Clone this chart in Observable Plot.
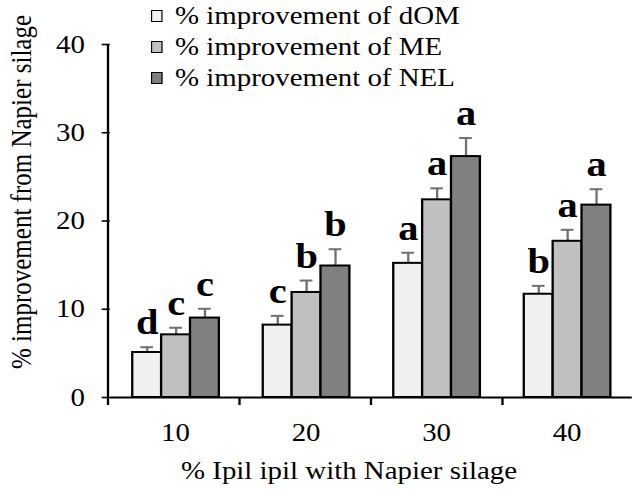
<!DOCTYPE html>
<html>
<head>
<meta charset="utf-8">
<script src="https://cdn.jsdelivr.net/npm/d3@7"></script>
<script src="https://cdn.jsdelivr.net/npm/@observablehq/plot@0.6"></script>
<style>
  html, body { margin: 0; padding: 0; background: #fff; }
  #chart { position: relative; width: 634px; height: 491px; color: #000; overflow: hidden; }
  #chart, #chart * { font-family: "Liberation Serif", serif !important; }
  #chart svg { position: absolute; left: 0; top: 0; }
</style>
</head>
<body>
<div id="chart"></div>
<script>
// Treatment levels (% Ipil ipil) and measured series
const doses = ["10", "20", "30", "40"];
const series = ["dOM", "ME", "NEL"];
const seriesLabels = ["% improvement of dOM", "% improvement of ME", "% improvement of NEL"];
const seriesFills = ["#f0f0f0", "#c0c0c0", "#808080"];

const dOM = [5.1, 8.2, 15.2, 11.7];
const dOMErr = [0.6, 1.05, 1.2, 0.95];
const dOMLetters = ["d", "c", "a", "b"];

const ME = [7.1, 11.9, 22.4, 17.7];
const MEErr = [0.8, 1.35, 1.3, 1.3];
const MELetters = ["c", "b", "a", "a"];

const NEL = [9.0, 14.9, 27.3, 21.8];
const NELErr = [1.05, 1.9, 2.1, 1.8];
const NELLetters = ["c", "b", "a", "a"];

const yTicks = [0, 10, 20, 30, 40];

const values = {dOM, ME, NEL};
const errors = {dOM: dOMErr, ME: MEErr, NEL: NELErr};
const letters = {dOM: dOMLetters, ME: MELetters, NEL: NELLetters};

const rows = doses.flatMap((dose, i) =>
  series.map(s => ({
    dose,
    series: s,
    value: values[s][i],
    top: values[s][i] + errors[s][i],
    letter: letters[s][i]
  }))
);

// The figure is drawn slightly widened: lay out in narrower units, then stretch horizontally.
const stretch = 1.155;
const W = 634, H = 491;
const textSize = 25;

const plot = Plot.plot({
  width: W / stretch,
  height: H,
  marginLeft: 108 / stretch,
  marginRight: 0,
  marginTop: 44,
  marginBottom: 94,
  style: {fontSize: textSize + "px", color: "#000", background: "transparent", overflow: "visible"},
  fx: {domain: doses, padding: 0, label: null},
  x: {domain: series, paddingInner: 0, paddingOuter: 0.74, axis: null},
  y: {domain: [0, 40], label: null},
  color: {domain: series, range: seriesFills},
  marks: [
    Plot.axisY({ticks: yTicks, tickSize: 7, tickPadding: 15, tickFormat: d => d, label: null, stroke: "#000", strokeWidth: 1.6}),
    Plot.axisFx({anchor: "bottom", tickSize: 0, tickPadding: 26, label: null}),
    Plot.ruleX(rows, {fx: "dose", x: "series", y1: "value", y2: "top", stroke: "#707070", strokeWidth: 2}),
    Plot.tickY(rows, {fx: "dose", x: "series", y: "top", stroke: "#707070", strokeWidth: 2, inset: 7}),
    Plot.barY(rows, {fx: "dose", x: "series", y: "value", fill: "series", stroke: "#000", strokeWidth: 2}),
    Plot.text(rows, {fx: "dose", x: "series", y: "top", text: "letter", dy: -13, lineAnchor: "bottom", fontWeight: "bold", fontSize: 35, fill: "#000"}),
    Plot.ruleY([0], {stroke: "#000", strokeWidth: 2})
  ]
});
plot.style.transformOrigin = "0 0";
plot.style.transform = `scaleX(${stretch})`;

const chart = document.getElementById("chart");
chart.appendChild(plot);

// Axis spine and category boundary ticks, placed with Plot's own scales
const fxs = plot.scale("fx");
const ys = plot.scale("y");
const band = d3.scaleBand().domain(fxs.domain).range(fxs.range).paddingInner(fxs.paddingInner ?? 0).paddingOuter(fxs.paddingOuter ?? 0);
const y0 = ys.apply(0), y40 = ys.apply(40);
const g = d3.select(plot).append("g").attr("stroke", "#000").attr("stroke-width", 2);
g.append("line").attr("x1", band.range()[0]).attr("x2", band.range()[0]).attr("y1", y40).attr("y2", y0 + 8);
fxs.domain.slice(1).forEach(d => {
  const x = band(d);
  g.append("line").attr("x1", x).attr("x2", x).attr("y1", y0).attr("y2", y0 + 8);
});

// Legend
const legend = d3.select(chart).append("div")
  .style("position", "absolute").style("left", "151px").style("top", "0px")
  .style("transform-origin", "0 0").style("transform", `scaleX(${stretch})`)
  .style("font-size", textSize + "px").style("line-height", "31px");
series.forEach((s, i) => {
  const r = legend.append("div").style("display", "flex").style("align-items", "center").style("white-space", "nowrap");
  r.append("div")
    .style("width", (11 / stretch) + "px").style("height", "12px").style("box-sizing", "border-box")
    .style("border", "1.4px solid #000").style("margin-right", (13 / stretch) + "px")
    .style("background", seriesFills[i]);
  r.append("span").text(seriesLabels[i]);
});

// Axis titles
function title(text, x, y, rotate) {
  d3.select(chart).append("div")
    .style("position", "absolute").style("white-space", "nowrap")
    .style("font-size", textSize + "px").style("line-height", "1")
    .style("left", x + "px").style("top", y + "px")
    .style("transform", `translate(-50%, -50%) scaleX(${stretch})${rotate ? " rotate(-90deg)" : ""}`)
    .text(text);
}
title("% Ipil ipil with Napier silage", 349, 470, false);
title("% improvement from Napier silage", 21, 192, true);
</script>
</body>
</html>
